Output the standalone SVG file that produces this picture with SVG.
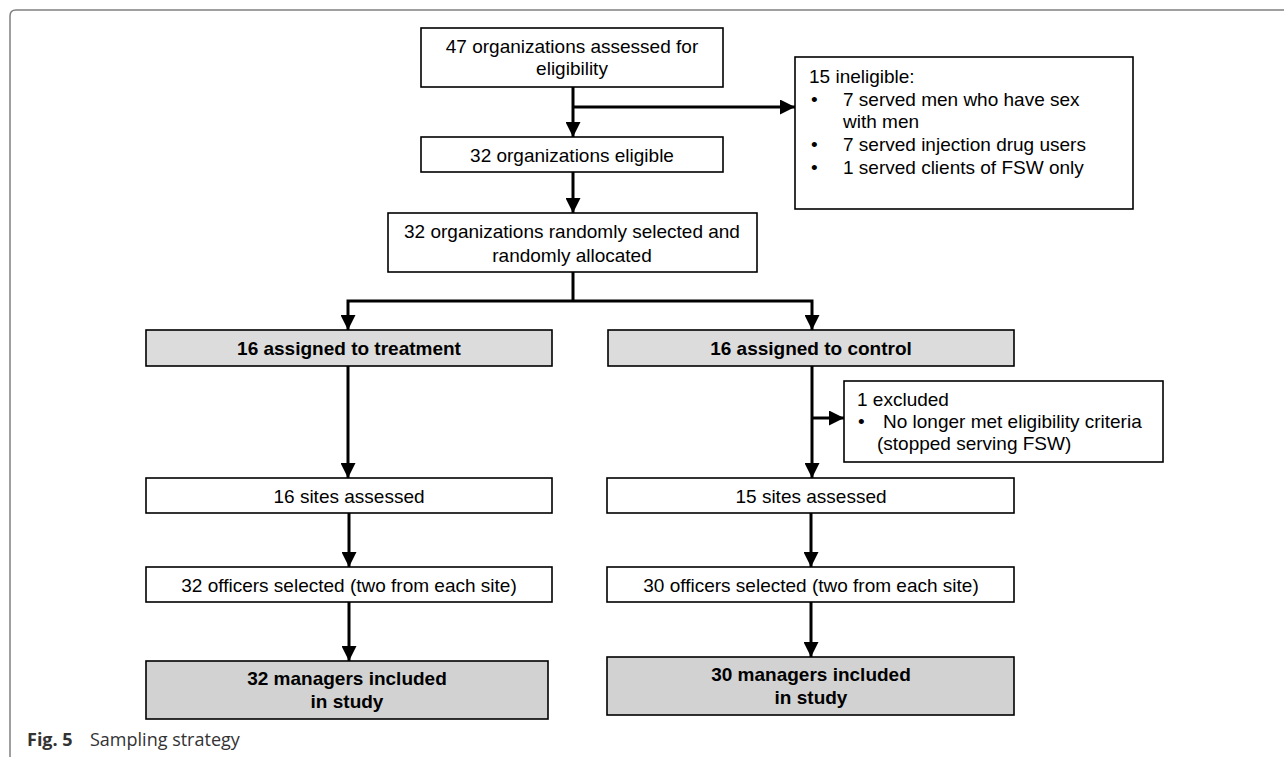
<svg xmlns="http://www.w3.org/2000/svg" width="1284" height="759" viewBox="0 0 1284 759">
<style>
.box{fill:#fff;stroke:#000;stroke-width:1.6}
.gbox{fill:#dcdcdc;stroke:#000;stroke-width:1.6}
.gbox2{fill:#d2d2d2;stroke:#000;stroke-width:1.6}
.t{font-family:"Liberation Sans",Arial,sans-serif;font-size:19px;fill:#000}
.c{text-anchor:middle}
.b{font-weight:bold}
.con{fill:none;stroke:#000;stroke-width:3}
.cap{font-family:"Open Sans",sans-serif;font-size:18px;fill:#333}
</style>
<defs>
<marker id="ah" markerUnits="userSpaceOnUse" markerWidth="15" markerHeight="15" refX="15" refY="7.5" orient="auto">
<path d="M0,0 L15,7.5 L0,15 z" fill="#000"/>
</marker>
</defs>
<rect width="1284" height="759" fill="#fff"/>
<path d="M10,757 L10,16 Q10,10 16,10 L1284,10" fill="none" stroke="#808080" stroke-width="1.5"/>

<g id="n1"><rect class="box" x="421" y="28" width="302" height="59"/>
<text class="t c" x="572" y="53">47 organizations assessed for</text>
<text class="t c" x="572" y="75">eligibility</text></g>

<g id="n2"><rect class="box" x="795" y="57" width="338" height="152"/>
<text class="t" x="809" y="83">15 ineligible:</text>
<text class="t" x="811" y="106">•</text><text class="t" x="843" y="106">7 served men who have sex</text>
<text class="t" x="843" y="128">with men</text>
<text class="t" x="811" y="151">•</text><text class="t" x="843" y="151">7 served injection drug users</text>
<text class="t" x="811" y="174">•</text><text class="t" x="843" y="174">1 served clients of FSW only</text></g>

<g id="n3"><rect class="box" x="421" y="137" width="302" height="35"/>
<text class="t c" x="572" y="162">32 organizations eligible</text></g>

<g id="n4"><rect class="box" x="388" y="213" width="369" height="59"/>
<text class="t c" x="572" y="238">32 organizations randomly selected and</text>
<text class="t c" x="572" y="262">randomly allocated</text></g>

<g id="n5"><rect class="gbox" x="146" y="330" width="406" height="36"/>
<text class="t c b" x="349" y="355">16 assigned to treatment</text></g>

<g id="n6"><rect class="gbox" x="608" y="330" width="406" height="36"/>
<text class="t c b" x="811" y="355">16 assigned to control</text></g>

<g id="n7"><rect class="box" x="844" y="381" width="319" height="81"/>
<text class="t" x="857" y="406">1 excluded</text>
<text class="t" x="858" y="428">•</text><text class="t" x="883" y="428">No longer met eligibility criteria</text>
<text class="t" x="877" y="450">(stopped serving FSW)</text></g>

<g id="n8"><rect class="box" x="146" y="478" width="406" height="35"/>
<text class="t c" x="349" y="503">16 sites assessed</text></g>

<g id="n9"><rect class="box" x="607" y="478" width="407" height="35"/>
<text class="t c" x="811" y="503">15 sites assessed</text></g>

<g id="n10"><rect class="box" x="146" y="567" width="406" height="35"/>
<text class="t c" x="349" y="592">32 officers selected (two from each site)</text></g>

<g id="n11"><rect class="box" x="607" y="567" width="407" height="35"/>
<text class="t c" x="811" y="592">30 officers selected (two from each site)</text></g>

<g id="n12"><rect class="gbox2" x="146" y="661" width="402" height="58"/>
<text class="t c b" x="347" y="685">32 managers included</text>
<text class="t c b" x="347" y="708">in study</text></g>

<g id="n13"><rect class="gbox2" x="607" y="657" width="407" height="58"/>
<text class="t c b" x="811" y="681">30 managers included</text>
<text class="t c b" x="811" y="704">in study</text></g>

<g id="connectors">
<line class="con" x1="573" y1="87" x2="573" y2="137" marker-end="url(#ah)"/>
<line class="con" x1="573" y1="107" x2="795" y2="107" marker-end="url(#ah)"/>
<line class="con" x1="573" y1="172" x2="573" y2="213" marker-end="url(#ah)"/>
<line class="con" x1="573" y1="272" x2="573" y2="301"/>
<polyline class="con" points="573,301 348,301 348,330" marker-end="url(#ah)"/>
<polyline class="con" points="573,301 812,301 812,330" marker-end="url(#ah)"/>
<line class="con" x1="348" y1="366" x2="348" y2="478" marker-end="url(#ah)"/>
<line class="con" x1="812" y1="366" x2="812" y2="478" marker-end="url(#ah)"/>
<line class="con" x1="812" y1="418" x2="844" y2="418" marker-end="url(#ah)"/>
<line class="con" x1="349" y1="513" x2="349" y2="567" marker-end="url(#ah)"/>
<line class="con" x1="811" y1="513" x2="811" y2="567" marker-end="url(#ah)"/>
<line class="con" x1="349" y1="602" x2="349" y2="661" marker-end="url(#ah)"/>
<line class="con" x1="811" y1="602" x2="811" y2="657" marker-end="url(#ah)"/>
</g>

<text class="cap" x="27" y="746"><tspan font-weight="bold">Fig. 5</tspan><tspan x="90">Sampling strategy</tspan></text>
</svg>
